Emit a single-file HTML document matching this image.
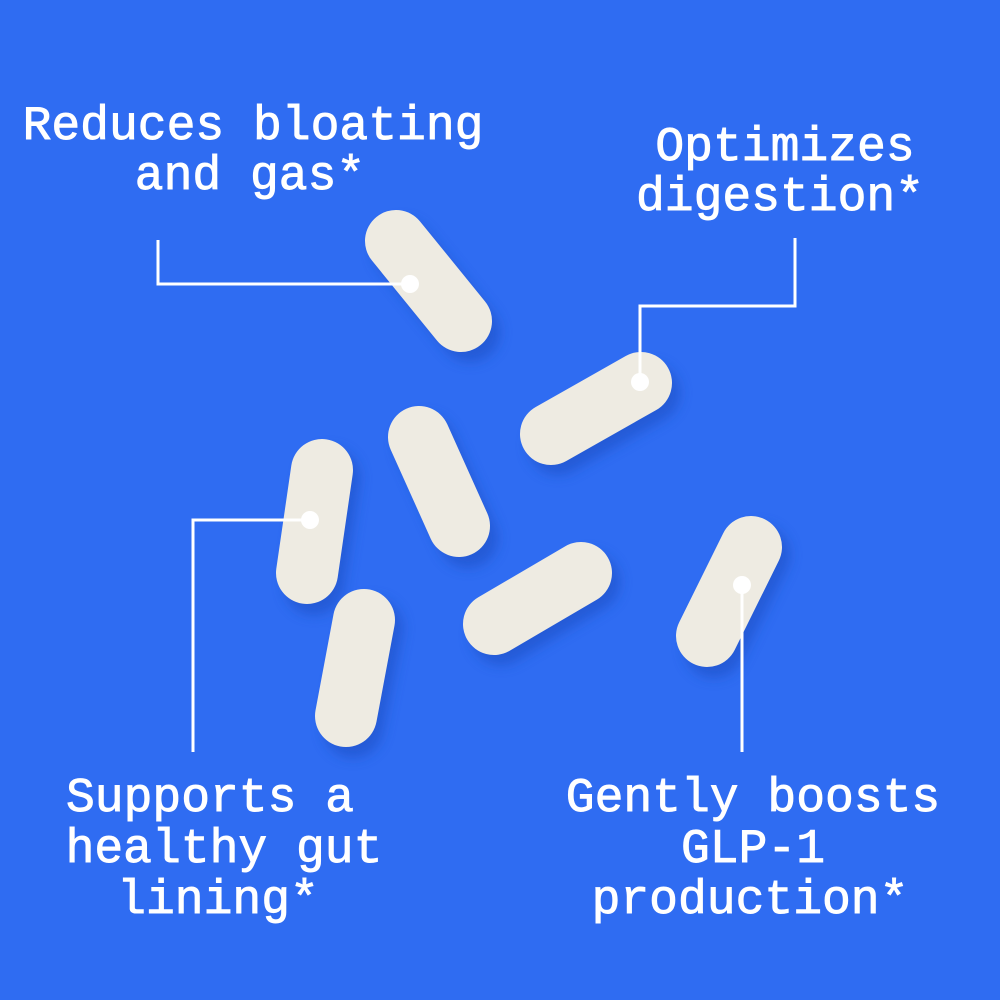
<!DOCTYPE html>
<html><head><meta charset="utf-8"><style>
html,body{margin:0;padding:0;width:1000px;height:1000px;overflow:hidden;background:#2f6cf2}
svg{display:block}
text{font-family:"Liberation Mono",monospace;font-size:48px;fill:#fff;text-anchor:middle;stroke:#fff;stroke-width:0.9px}
</style></head><body>
<svg width="1000" height="1000" viewBox="0 0 1000 1000">
<rect width="1000" height="1000" fill="#2f6cf2"/>
<defs>
<filter id="sh" x="-50%" y="-50%" width="200%" height="200%"><feGaussianBlur stdDeviation="6"/></filter>
</defs>
<g stroke="#1f4fc4" stroke-width="60" stroke-linecap="round" opacity="0.6" filter="url(#sh)" transform="translate(8,10)">
<line x1="395" y1="240" x2="462" y2="322"/>
<line x1="550" y1="435" x2="642" y2="383"/>
<line x1="322" y1="468" x2="306" y2="575"/>
<line x1="418" y1="435" x2="460" y2="528"/>
<line x1="365" y1="618" x2="345" y2="718"/>
<line x1="493" y1="625" x2="582" y2="572"/>
<line x1="752" y1="545" x2="706" y2="638"/>
</g>
<g stroke="#eeebe2" stroke-width="62" stroke-linecap="round">
<line x1="396" y1="241" x2="461" y2="321"/>
<line x1="551" y1="434" x2="641" y2="383"/>
<line x1="322" y1="470" x2="307" y2="573"/>
<line x1="419" y1="437" x2="459" y2="526"/>
<line x1="364" y1="620" x2="346" y2="716"/>
<line x1="494" y1="624" x2="581" y2="573"/>
<line x1="751" y1="547" x2="707" y2="636"/>
</g>
<g fill="none" stroke="#fff" stroke-width="3">
<polyline points="158,240 158,284 410,284"/>
<polyline points="640,382 640,306 795,306 795,238"/>
<polyline points="310,520 193,520 193,752"/>
<polyline points="742,585 742,752"/>
</g>
<g fill="#fff">
<circle cx="410" cy="284" r="9"/>
<circle cx="640" cy="382" r="9"/>
<circle cx="310" cy="520" r="9"/>
<circle cx="742" cy="585" r="9"/>
</g>
<text x="253" y="139">Reduces bloating</text>
<text x="250" y="189">and gas*</text>
<text x="785" y="160">Optimizes</text>
<text x="780" y="210">digestion*</text>
<text x="210" y="811">Supports a</text>
<text x="224" y="862">healthy gut</text>
<text x="218" y="913">lining*</text>
<text x="753" y="811">Gently boosts</text>
<text x="753" y="862">GLP-1</text>
<text x="750" y="913">production*</text>
</svg>
</body></html>
